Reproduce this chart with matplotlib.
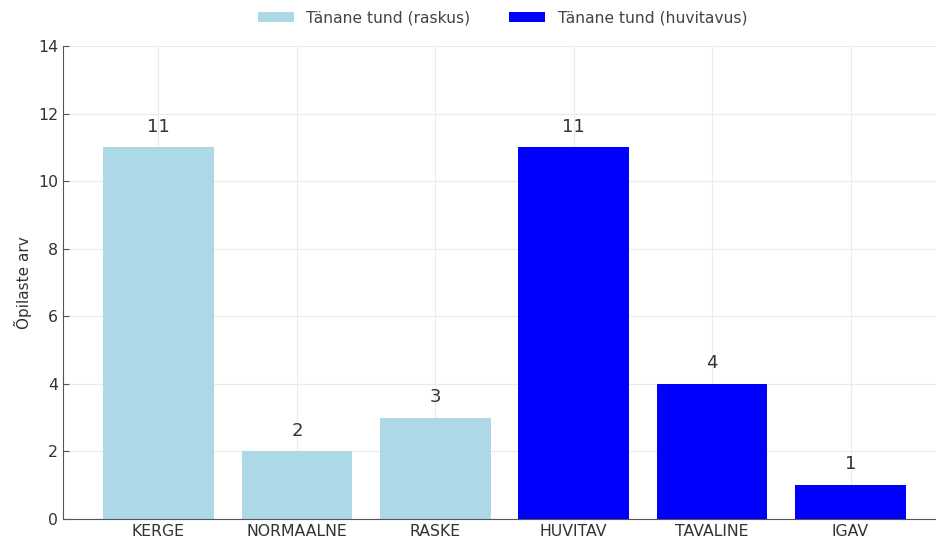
import matplotlib
matplotlib.use("Agg")
import matplotlib.pyplot as plt

categories_raskus = ["KERGE", "NORMAALNE", "RASKE"]
values_raskus = [11, 2, 3]
categories_huvi = ["HUVITAV", "TAVALINE", "IGAV"]
values_huvi = [11, 4, 1]
yticks = [0, 2, 4, 6, 8, 10, 12, 14]

fig = plt.figure(figsize=(9.36, 5.38), dpi=100)
ax = fig.add_axes([63/936, 1-519/538, (946-63)/936, (519-46)/538])

x1 = list(range(len(categories_raskus)))
x2 = [len(categories_raskus) + i for i in range(len(categories_huvi))]
b1 = ax.bar(x1, values_raskus, width=0.8, color="lightblue", label="Tänane tund (raskus)")
b2 = ax.bar(x2, values_huvi, width=0.8, color="blue", label="Tänane tund (huvitavus)")

for bars, vals in ((b1, values_raskus), (b2, values_huvi)):
    for rect, v in zip(bars, vals):
        ax.text(rect.get_x() + rect.get_width()/2, v + 0.35, str(v),
                ha="center", va="bottom", fontsize=13, color="#333333")

ax.set_xticks(x1 + x2)
ax.set_xticklabels(categories_raskus + categories_huvi)
ax.set_yticks(yticks)
ax.set_ylim(0, 14)
ax.set_xlim(-0.69, 5.69)
ax.tick_params(axis="both", direction="in", length=4, color="#555555", labelsize=11.3, labelcolor="#333333")
ax.set_ylabel("Õpilaste arv", fontsize=11, color="#333333")
ax.spines["top"].set_visible(False)
ax.spines["right"].set_visible(False)
ax.spines["left"].set_color("#555555")
ax.spines["bottom"].set_color("#555555")
ax.grid(True, color="#ebebeb", linewidth=0.8)
ax.set_axisbelow(True)

fig.legend(loc="upper center", bbox_to_anchor=(0.537, 1.007), ncol=2, frameon=False, fontsize=11.2,
           labelcolor="#444444", handlelength=2.3, handleheight=0.6, columnspacing=2.5)

fig.savefig("out.png", dpi=100)
